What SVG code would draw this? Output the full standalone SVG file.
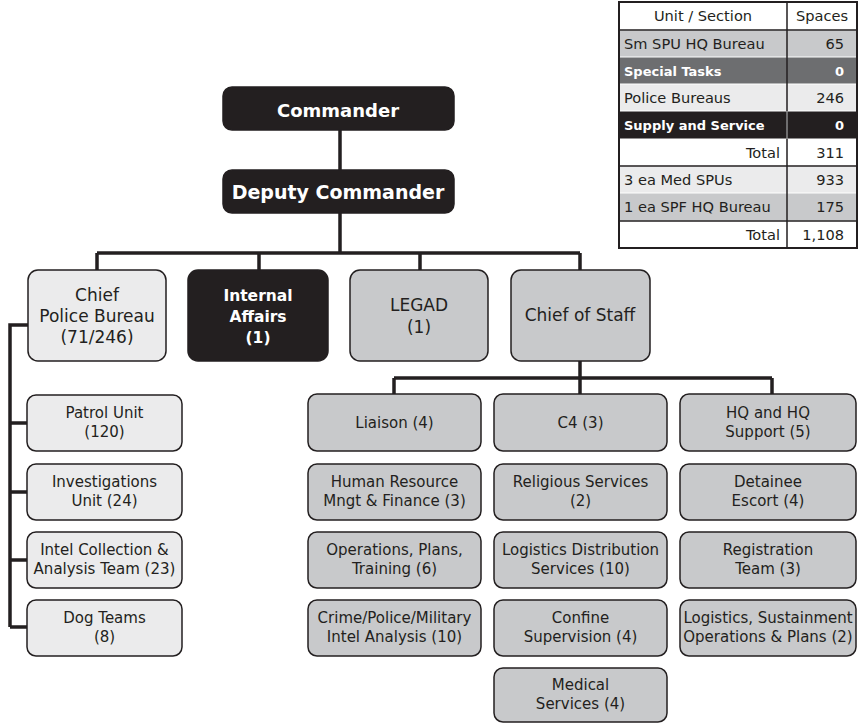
<svg xmlns="http://www.w3.org/2000/svg" width="858" height="724" viewBox="0 0 858 724">
<style>
.t{font-family:"DejaVu Sans","Liberation Sans",sans-serif;fill:#231f20;text-anchor:middle}
.s{font-size:15px}
.m{font-size:17px}
.bi{font-size:15.5px}
.b{font-weight:bold;fill:#fff}
.tb{font-family:"DejaVu Sans","Liberation Sans",sans-serif;font-size:14.6px;fill:#231f20}
.tw{font-weight:bold;fill:#fff;font-size:13px}
.blk{fill:#231f20;stroke:#231f20;stroke-width:1.5}
.lt{fill:#ebebec;stroke:#231f20;stroke-width:1.5}
.gr{fill:#c8c9cb;stroke:#231f20;stroke-width:1.5}
.c{fill:none;stroke:#231f20;stroke-width:3.5}
</style>
<g id="connectors">
<path class="c" d="M340 130V170M340 213V253M97 253H580M97 253V270M259 253V270M420 253V270M580 253V270"/>
<path class="c" d="M580 361V378M394 378H772M394 378V394M580 378V394M772 378V394"/>
<path class="c" d="M28 325H10V627M10 423H27M10 492H27M10 560H27M10 627H27"/>
</g>
<g id="table">
<rect x="619" y="2" width="238" height="28" fill="#fff"/>
<rect x="619" y="30.5" width="238" height="26" fill="#c8c9cb"/>
<rect x="619" y="57.5" width="238" height="26" fill="#6d6e70"/>
<rect x="619" y="84.5" width="238" height="26" fill="#ebebec"/>
<rect x="619" y="111.5" width="238" height="27" fill="#231f20"/>
<rect x="619" y="139" width="238" height="27" fill="#fff"/>
<rect x="619" y="166.5" width="238" height="26" fill="#ebebec"/>
<rect x="619" y="193.5" width="238" height="27" fill="#c8c9cb"/>
<rect x="619" y="221" width="238" height="27" fill="#fff"/>
<path d="M619 30H857M619 166H857M619 221H857M787 2V111M787 139V248" stroke="#231f20" stroke-width="1.5" fill="none"/>
<path d="M787 111V139" stroke="#8a8a8a" stroke-width="1.5"/>
<rect x="619" y="2" width="238" height="246" fill="none" stroke="#231f20" stroke-width="2"/>
<text class="tb" x="703" y="21" text-anchor="middle">Unit / Section</text>
<text class="tb" x="822" y="21" text-anchor="middle">Spaces</text>
<text class="tb" x="624" y="48.5">Sm SPU HQ Bureau</text>
<text class="tb" x="844" y="48.5" text-anchor="end">65</text>
<text class="tb tw" x="624" y="75.5">Special Tasks</text>
<text class="tb tw" x="844" y="75.5" text-anchor="end">0</text>
<text class="tb" x="624" y="102.5">Police Bureaus</text>
<text class="tb" x="844" y="102.5" text-anchor="end">246</text>
<text class="tb tw" x="624" y="129.5">Supply and Service</text>
<text class="tb tw" x="844" y="129.5" text-anchor="end">0</text>
<text class="tb" x="780" y="157.5" text-anchor="end">Total</text>
<text class="tb" x="844" y="157.5" text-anchor="end">311</text>
<text class="tb" x="624" y="184.5">3 ea Med SPUs</text>
<text class="tb" x="844" y="184.5" text-anchor="end">933</text>
<text class="tb" x="624" y="211.5">1 ea SPF HQ Bureau</text>
<text class="tb" x="844" y="211.5" text-anchor="end">175</text>
<text class="tb" x="780" y="239.5" text-anchor="end">Total</text>
<text class="tb" x="844" y="239.5" text-anchor="end">1,108</text>
</g>
<g id="commander"><rect class="blk" x="223" y="87" width="231" height="43" rx="9"/><text class="t b" x="338" y="116.5" font-size="18">Commander</text></g>
<g id="deputy"><rect class="blk" x="223" y="170" width="231" height="43" rx="9"/><text class="t b" x="338" y="198.5" font-size="19">Deputy Commander</text></g>
<g id="cpb"><rect class="lt" x="28" y="270" width="138" height="91" rx="10"/><text class="t m" x="97" y="300.5">Chief<tspan x="97" dy="21">Police Bureau</tspan><tspan x="97" dy="21">(71/246)</tspan></text></g>
<g id="ia"><rect class="blk" x="188" y="270" width="140" height="91" rx="10"/><text class="t bi b" x="258" y="300.5">Internal<tspan x="258" dy="21">Affairs</tspan><tspan x="258" dy="21">(1)</tspan></text></g>
<g id="legad"><rect class="gr" x="350" y="270" width="138" height="91" rx="10"/><text class="t m" x="419" y="311">LEGAD<tspan x="419" dy="22">(1)</tspan></text></g>
<g id="cos"><rect class="gr" x="511" y="270" width="139" height="91" rx="10"/><text class="t m" x="580" y="320.5">Chief of Staff</text></g>
<g id="patrol"><rect class="lt" x="27" y="395" width="155" height="56" rx="9"/><text class="t s" x="104.5" y="418">Patrol Unit<tspan x="104.5" dy="19">(120)</tspan></text></g>
<g id="invest"><rect class="lt" x="27" y="464" width="155" height="56" rx="9"/><text class="t s" x="104.5" y="487">Investigations<tspan x="104.5" dy="19">Unit (24)</tspan></text></g>
<g id="intel"><rect class="lt" x="27" y="532" width="155" height="56" rx="9"/><text class="t s" x="104.5" y="555">Intel Collection &amp;<tspan x="104.5" dy="19">Analysis Team (23)</tspan></text></g>
<g id="dog"><rect class="lt" x="27" y="600" width="155" height="56" rx="9"/><text class="t s" x="104.5" y="623">Dog Teams<tspan x="104.5" dy="19">(8)</tspan></text></g>
<g id="liaison"><rect class="gr" x="308" y="394" width="173" height="57" rx="9"/><text class="t s" x="394.5" y="428">Liaison (4)</text></g>
<g id="c4"><rect class="gr" x="494" y="394" width="173" height="57" rx="9"/><text class="t s" x="580.5" y="428">C4 (3)</text></g>
<g id="hq"><rect class="gr" x="680" y="394" width="176" height="57" rx="9"/><text class="t s" x="768" y="418">HQ and HQ<tspan x="768" dy="19">Support (5)</tspan></text></g>
<g id="hr"><rect class="gr" x="308" y="464" width="173" height="56" rx="9"/><text class="t s" x="394.5" y="487">Human Resource<tspan x="394.5" dy="19">Mngt &amp; Finance (3)</tspan></text></g>
<g id="rel"><rect class="gr" x="494" y="464" width="173" height="56" rx="9"/><text class="t s" x="580.5" y="487">Religious Services<tspan x="580.5" dy="19">(2)</tspan></text></g>
<g id="det"><rect class="gr" x="680" y="464" width="176" height="56" rx="9"/><text class="t s" x="768" y="487">Detainee<tspan x="768" dy="19">Escort (4)</tspan></text></g>
<g id="ops"><rect class="gr" x="308" y="532" width="173" height="56" rx="9"/><text class="t s" x="394.5" y="555">Operations, Plans,<tspan x="394.5" dy="19">Training (6)</tspan></text></g>
<g id="logd"><rect class="gr" x="494" y="532" width="173" height="56" rx="9"/><text class="t s" x="580.5" y="555">Logistics Distribution<tspan x="580.5" dy="19">Services (10)</tspan></text></g>
<g id="reg"><rect class="gr" x="680" y="532" width="176" height="56" rx="9"/><text class="t s" x="768" y="555">Registration<tspan x="768" dy="19">Team (3)</tspan></text></g>
<g id="crime"><rect class="gr" x="308" y="600" width="173" height="56" rx="9"/><text class="t s" x="394.5" y="623">Crime/Police/Military<tspan x="394.5" dy="19">Intel Analysis (10)</tspan></text></g>
<g id="conf"><rect class="gr" x="494" y="600" width="173" height="56" rx="9"/><text class="t s" x="580.5" y="623">Confine<tspan x="580.5" dy="19">Supervision (4)</tspan></text></g>
<g id="logs"><rect class="gr" x="680" y="600" width="176" height="56" rx="9"/><text class="t s" x="768" y="623">Logistics, Sustainment<tspan x="768" dy="19">Operations &amp; Plans (2)</tspan></text></g>
<g id="med"><rect class="gr" x="494" y="668" width="173" height="54" rx="9"/><text class="t s" x="580.5" y="690">Medical<tspan x="580.5" dy="19">Services (4)</tspan></text></g>
</svg>
